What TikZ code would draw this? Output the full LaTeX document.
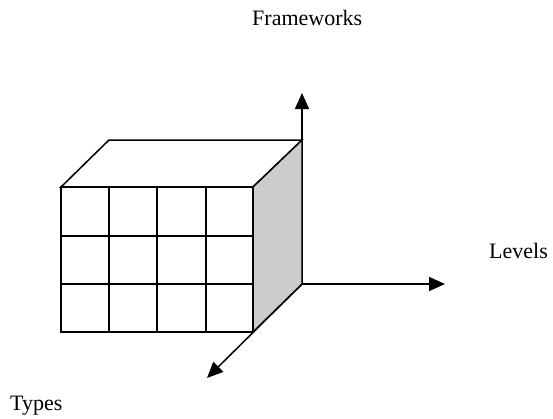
\documentclass[tikz,border=0pt]{standalone}
\usepackage{fontspec}
\setmainfont{Liberation Serif}
\usetikzlibrary{arrows.meta}
\begin{document}
\begin{tikzpicture}[x=1pt,y=-1pt,
  edge/.style={line width=1.5pt, line join=miter},
  axis/.style={line width=1.5pt, -{Triangle[length=16pt,width=14pt]}},
  lbl/.style={inner sep=0pt, anchor=base west, font=\fontsize{22}{26}\selectfont}]
\useasboundingbox (0,0) rectangle (553,418);
% coordinates
\coordinate (O) at (302,284);
\coordinate (up) at (302,93);
\coordinate (right) at (445,284);
\coordinate (diag) at (207,378);
\coordinate (FTL) at (61,187);
\coordinate (FTR) at (253,187);
\coordinate (FBL) at (61,332);
\coordinate (FBR) at (253,332);
\coordinate (BTL) at (109,140);
\coordinate (BTR) at (302,140);
% axes
\draw[axis] (O) -- (up);
\draw[axis] (O) -- (right);
\draw[axis] (O) -- (diag);
% cube
\filldraw[edge, fill=white] (FTL) -- (BTL) -- (BTR) -- (FTR) -- cycle;
\filldraw[edge, fill={rgb,255:red,204;green,204;blue,204}] (FTR) -- (BTR) -- (O) -- (FBR) -- cycle;
\filldraw[edge, fill=white] (FTL) rectangle (FBR);
\foreach \x in {109,157,206} \draw[edge] (\x,187) -- (\x,332);
\foreach \y in {236,284} \draw[edge] (61,\y) -- (253,\y);
% labels
\node[lbl] (fw) at (252,25) {Frameworks};
\node[lbl] (lv) at (489,258) {Levels};
\node[lbl] (ty) at (10,410) {Types};
\end{tikzpicture}
\end{document}
